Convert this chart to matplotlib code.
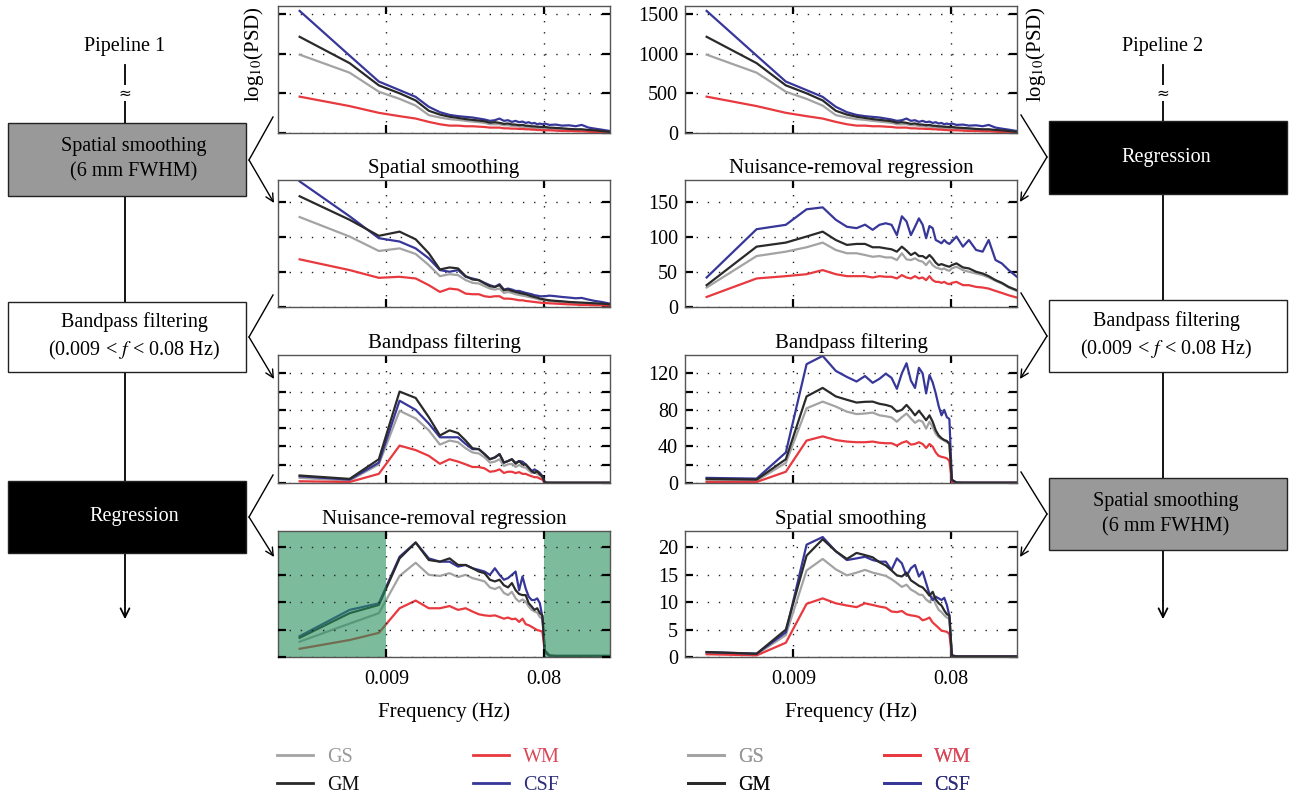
import matplotlib
matplotlib.use('Agg')
import matplotlib.pyplot as plt
from matplotlib.ticker import FixedLocator, NullLocator, FixedFormatter
from matplotlib.patches import Rectangle

plt.rcParams['font.family'] = ['Liberation Serif', 'DejaVu Serif']
plt.rcParams['mathtext.fontset'] = 'stix'

# ---------------- data ----------------
freq = [0.0027, 0.0054, 0.0081, 0.0108, 0.0135, 0.0162, 0.0189, 0.0216, 0.0243, 0.0270,
        0.0297, 0.0324, 0.0351, 0.0378, 0.0405, 0.0432, 0.0459, 0.0486, 0.0513, 0.0540,
        0.0567, 0.0594, 0.0621, 0.0648, 0.0675, 0.0702, 0.0729, 0.0756, 0.0783, 0.0810,
        0.0864, 0.0945, 0.1026, 0.1134, 0.1242, 0.1350, 0.1485, 0.1620, 0.1782, 0.1998]

series_names = ['GS', 'GM', 'WM', 'CSF']

# raw PSD (top row, both pipelines)
raw_gs = [987, 760, 520, 430, 345, 225, 195, 175, 165, 153, 144, 136, 127, 110, 110, 110, 97, 97, 89, 89,
          80, 80, 72, 72, 64, 64, 59, 59, 55, 55, 47, 42, 38, 34, 30, 25, 21, 17, 13, 8]
raw_gm = [1212, 880, 600, 500, 410, 280, 232, 205, 190, 175, 165, 157, 148, 130, 136, 128, 115, 120, 108, 106,
          98, 102, 92, 90, 84, 84, 79, 78, 75, 76, 68, 64, 59, 51, 47, 47, 38, 34, 25, 13]
raw_wm = [458, 339, 254, 212, 182, 140, 110, 93, 93, 85, 85, 80, 76, 68, 68, 68, 59, 59, 55, 55,
          51, 51, 47, 47, 42, 42, 38, 38, 34, 34, 34, 30, 25, 25, 21, 21, 17, 13, 13, 8]
raw_csf = [1538, 975, 648, 540, 455, 330, 262, 228, 212, 203, 195, 182, 170, 153, 161, 182, 153, 161, 140, 153,
           136, 144, 127, 136, 119, 127, 110, 119, 110, 119, 102, 106, 93, 97, 85, 102, 68, 55, 42, 25]

# Pipeline 1, step 1: spatial smoothing
ss1_gs = [128.9, 101, 80.3, 84, 76, 60, 44.2, 47, 45.7, 38.5, 34.6, 33.7, 29.8, 26.4, 25, 26.4, 20.2, 21.6, 20.2, 18.3,
          17.3, 16.3, 15.4, 14.4, 13.5, 12.5, 11.5, 10.6, 10.1, 9.6, 8.7, 7.7, 7.2, 6.3, 5.8, 5.3, 4.8, 4.3, 3.8, 2.9]
ss1_gm = [158.7, 125, 102, 108, 97, 77, 53.8, 56.7, 55.3, 44.2, 39.4, 38.5, 33.7, 29.8, 28.8, 31.3, 24, 25, 23, 21.6,
          20.2, 19.2, 18.3, 16.8, 15.4, 14.4, 13.5, 12, 11.5, 10.6, 9.6, 8.7, 8.2, 7.2, 6.7, 6.3, 5.8, 5.3, 4.8, 3.8]
ss1_wm = [68.3, 52.9, 41.8, 43.3, 40.9, 31.3, 21.6, 26.4, 25, 19.2, 18.3, 18.3, 15.4, 14.4, 15.4, 15.4, 12, 12, 11.5, 10.6,
          9.6, 9.6, 8.7, 8.2, 7.7, 7.2, 6.7, 6.3, 5.8, 5.8, 5.3, 4.8, 4.3, 3.8, 3.4, 2.9, 2.9, 2.4, 2.4, 1.9]
ss1_csf = [180, 130, 98.6, 93.8, 84, 69.7, 52.9, 50.5, 52.9, 43.3, 40.9, 38.5, 34.6, 31.3, 28.8, 32.7, 25, 26.4, 25, 23,
           23, 21.6, 20.2, 19.2, 18.3, 16.8, 16.3, 15.4, 15.4, 15.4, 16.3, 15.4, 14.4, 13.5, 12.5, 13, 10.6, 8.7, 7.2, 4.8]

# Pipeline 1, step 2: bandpass filtering
bp1_gs = [5.6, 2.6, 20.4, 79, 70.6, 57.6, 42, 46.4, 44.6, 38, 33.4, 32.3, 28, 22.3, 23.4, 26, 18.6, 20.4, 21, 17.5,
          19.7, 17.5, 16.7, 13.7, 11, 11.9, 10, 8.5, 5.6, 0.4, 0.2, 0.2, 0.2, 0.2, 0.2, 0.2, 0.2, 0.2, 0.2, 0.2]
bp1_gm = [8.2, 4.5, 26, 100, 93, 72, 52, 57.6, 54.6, 46.4, 38, 37, 31.6, 26, 27.9, 31.6, 22.3, 24, 26, 21,
          24, 20.4, 20.4, 16.7, 13, 11, 13, 9.3, 7.4, 0.5, 0.3, 0.3, 0.3, 0.3, 0.3, 0.3, 0.3, 0.3, 0.3, 0.3]
bp1_wm = [1.9, 1.1, 10, 40.9, 36, 29.7, 21, 26, 23.4, 20.4, 17.5, 17.5, 16, 12.3, 13, 14.9, 11, 12.3, 12.3, 10.8,
          11.9, 10, 10, 8.5, 7.4, 6.3, 6.3, 4.8, 3.7, 0.2, 0.1, 0.1, 0.1, 0.1, 0.1, 0.1, 0.1, 0.1, 0.1, 0.1]
bp1_csf = [7.4, 3.7, 22.3, 90, 80, 65, 50, 50, 50, 42.7, 37, 37, 31.6, 26, 28, 31.6, 22.3, 24, 26, 22,
           24, 23.4, 20.4, 16.7, 13, 14.9, 13, 11, 7.4, 0.4, 0.2, 0.2, 0.2, 0.2, 0.2, 0.2, 0.2, 0.2, 0.2, 0.2]

# Pipeline 1, step 3: nuisance-removal regression
rg1_gs = [2.8, 6.1, 8.0, 14.8, 17.2, 15, 14.8, 15.3, 14.6, 15, 14.4, 14.1, 13.8, 12.7, 12.4, 12.8, 11.7, 11.3, 11.9, 10.7,
          10.1, 10.5, 10.1, 9.2, 8.6, 8.3, 8.1, 7.3, 7.0, 0.9, 0.2, 0.1, 0.1, 0.1, 0.1, 0.1, 0.1, 0.1, 0.1, 0.1]
rg1_gm = [3.5, 8.0, 9.5, 18, 20.9, 17.7, 17.4, 18, 16.8, 16.8, 16.2, 15.6, 15.3, 14.1, 13.8, 14.1, 13.1, 12.7, 13.5, 12.2,
          11.5, 11.3, 11.3, 9.8, 9.2, 8.6, 8.9, 8.0, 7.6, 1.2, 0.3, 0.2, 0.2, 0.2, 0.2, 0.2, 0.2, 0.2, 0.2, 0.2]
rg1_wm = [1.5, 3.1, 4.4, 8.9, 10.3, 8.9, 8.9, 9.3, 8.6, 8.9, 8.3, 7.8, 7.6, 7.5, 7.6, 7.3, 7.0, 7.2, 6.9, 7.0,
          6.4, 7.0, 6.0, 5.8, 5.5, 5.2, 4.9, 4.8, 4.6, 0.9, 0.2, 0.1, 0.1, 0.1, 0.1, 0.1, 0.1, 0.1, 0.1, 0.1]
rg1_csf = [3.8, 8.6, 9.8, 18.3, 20.9, 18, 17.4, 17.4, 16.5, 16.8, 16.2, 15.9, 15.6, 15, 16.2, 15, 14.1, 14.4, 15.0, 15.6,
           12.2, 14.7, 12.5, 11, 10.4, 10.4, 10.7, 9.8, 7.3, 0.9, 0.2, 0.2, 0.2, 0.2, 0.2, 0.2, 0.2, 0.2, 0.2, 0.2]

# Pipeline 2, step 1: nuisance-removal regression
rg2_gs = [27.9, 73, 79.3, 85.6, 92.3, 81.7, 77, 77, 74.5, 72, 73, 71, 71, 67.3, 77, 68.3, 67.3, 69.7, 66.3, 65,
          60, 66.3, 60, 56.7, 55.3, 53.8, 55.3, 52.9, 51.9, 55.3, 57.7, 52.9, 50.5, 48, 45.7, 42.3, 37.5, 33.7, 27.9, 23]
rg2_gm = [31.3, 86.5, 92.3, 101, 108, 96, 89, 90.4, 90.4, 85.6, 85.6, 84, 82.7, 79.3, 86.5, 80.8, 74.5, 77.9, 73, 73,
          69.7, 74.5, 69.7, 63.5, 60, 61.5, 60, 58.7, 57.7, 60, 62.5, 56.7, 55.3, 50.5, 48, 44.2, 38.5, 34.6, 28.8, 24]
rg2_wm = [14.4, 40.9, 44.2, 47, 52.9, 47, 44.2, 44.2, 44.2, 42.3, 44.2, 43.3, 43.3, 40.9, 45.7, 42.3, 40.9, 44.2, 40.9, 42.3,
          38.5, 44.2, 38.5, 36, 36, 34.6, 36, 33.7, 32.7, 34.6, 36, 31.3, 31.3, 28.8, 27.9, 26.4, 23, 20.2, 16.8, 13.5]
rg2_csf = [42.3, 111.5, 117.8, 140, 142.8, 125, 115, 113, 118, 110.6, 117.8, 120, 117.8, 103, 130, 122.6, 103, 115, 127, 118,
           98.6, 116, 113, 96, 93.8, 91.3, 96, 92.3, 90.4, 93.8, 101, 86.5, 96, 81.7, 79.3, 96, 67.3, 62.5, 52.9, 43.3]

# Pipeline 2, step 2: bandpass filtering
bp2_gs = [2.6, 2.6, 22, 81.7, 89, 83.6, 78, 75.4, 76, 77, 74, 73, 71.7, 67, 72, 76, 70.6, 65.8, 68.7, 67,
          59.4, 67, 61.3, 53.9, 50, 48, 46.4, 44.6, 42.7, 2.6, 0.3, 0.2, 0.2, 0.2, 0.2, 0.2, 0.2, 0.2, 0.2, 0.2]
bp2_gm = [4.5, 3.7, 26, 94.7, 104, 94.7, 91, 88, 88.8, 89, 86.6, 85.4, 83.6, 78, 80, 85.4, 80, 74, 79, 74,
          68.7, 74, 67, 57.6, 52, 49, 47, 46, 43, 3.7, 0.4, 0.3, 0.3, 0.3, 0.3, 0.3, 0.3, 0.3, 0.3, 0.3]
bp2_wm = [1.1, 1.1, 12.3, 46.4, 51, 47, 45.3, 44.6, 44.6, 45.3, 44, 43.5, 43.5, 40.9, 44, 45.7, 42, 42.7, 44.6, 42.7,
          38.3, 42.7, 39.7, 33.4, 29.7, 28.6, 27.9, 27, 24, 1.1, 0.2, 0.2, 0.2, 0.2, 0.2, 0.2, 0.2, 0.2, 0.2, 0.2]
bp2_csf = [5.6, 4.8, 33.4, 130, 139, 122.6, 116, 111, 117, 109.6, 114, 119.6, 115, 103, 120, 131, 112, 104, 126, 120,
           98, 118, 110, 98, 84, 74, 80, 72, 70, 3, 0.5, 0.3, 0.3, 0.3, 0.3, 0.3, 0.3, 0.3, 0.3, 0.3]

# Pipeline 2, step 3: spatial smoothing
ss2_gs = [0.7, 0.5, 4.0, 15.8, 17.9, 16.0, 14.9, 15.4, 15.9, 15.4, 15.1, 14.8, 14.2, 13.5, 12.8, 13.2, 12.3, 11.9, 11.4, 11.3,
          10.5, 10.0, 11.0, 9.6, 8.6, 8.2, 7.6, 7.2, 7.0, 0.2, 0.1, 0.1, 0.1, 0.1, 0.1, 0.1, 0.1, 0.1, 0.1, 0.1]
ss2_gm = [0.9, 0.6, 5.0, 18.5, 21.5, 19.3, 17.9, 19.0, 18.6, 18.2, 17.3, 16.7, 15.8, 14.9, 14.7, 15.4, 14.0, 13.5, 13.0, 12.7,
          12.0, 11.2, 11.9, 10.5, 9.8, 9.4, 8.5, 7.8, 7.6, 0.3, 0.1, 0.1, 0.1, 0.1, 0.1, 0.1, 0.1, 0.1, 0.1, 0.1]
ss2_wm = [0.5, 0.3, 2.6, 9.7, 10.7, 9.8, 9.4, 9.1, 9.8, 9.5, 9.2, 9.0, 8.3, 8.2, 8.4, 7.8, 7.6, 7.5, 7.3, 6.7,
          6.9, 7.2, 6.3, 5.8, 5.3, 4.8, 4.7, 4.6, 4.2, 0.2, 0.1, 0.1, 0.1, 0.1, 0.1, 0.1, 0.1, 0.1, 0.1, 0.1]
ss2_csf = [0.9, 0.6, 4.5, 20.5, 21.9, 19.3, 17.7, 18.0, 18.3, 17.7, 17.4, 17.4, 15.9, 18.0, 17.1, 14.8, 16.2, 16.8, 14.7, 15.6,
           13.5, 11.5, 10.4, 11.0, 10.7, 10.4, 10.8, 9.5, 7.5, 0.3, 0.1, 0.1, 0.1, 0.1, 0.1, 0.1, 0.1, 0.1, 0.1, 0.1]

x_ticks = [0.009, 0.08]
x_ticklabels = ['0.009', '0.08']
band = (0.009, 0.08)

titles_left = ['', 'Spatial smoothing', 'Bandpass filtering', 'Nuisance-removal regression']
titles_right = ['', 'Nuisance-removal regression', 'Bandpass filtering', 'Spatial smoothing']
left_steps = ['Spatial smoothing\n(6 mm FWHM)', 'Bandpass filtering\n(0.009 < $f$ < 0.08 Hz)', 'Regression']
right_steps = ['Regression', 'Bandpass filtering\n(0.009 < $f$ < 0.08 Hz)', 'Spatial smoothing\n(6 mm FWHM)']

# ---------------- style ----------------
C = {'GS': '#a3a3a3', 'GM': '#2a2a2a', 'WM': '#e8393f', 'CSF': '#37379a'}
TXT = {'GS': '#999999', 'GM': '#111111', 'WM': '#d9485a', 'CSF': '#2e2e7c'}

W, H = 1290, 794
fig = plt.figure(figsize=(W / 100, H / 100), dpi=100)


def px_axes(x0, y0, x1, y1, **kw):
    return fig.add_axes([x0 / W, 1 - y1 / H, (x1 - x0) / W, (y1 - y0) / H], **kw)


row_y = [(6, 133), (180, 307), (355, 483), (531, 657)]
col_x = [(278, 610), (685, 1017)]

row_ylim = [(0, 1600), (0, 182), (0, 140), (0, 23)]
row_yticks = [[0, 500, 1000, 1500], [0, 50, 100, 150], [0, 20, 40, 60, 80, 100, 120], [0, 5, 10, 15, 20]]
row_ylabels = [['0', '500', '1000', '1500'], ['0', '50', '100', '150'],
               ['0', '', '40', '', '80', '', '120'], ['0', '5', '10', '15', '20']]

left_data = [(raw_gs, raw_gm, raw_wm, raw_csf), (ss1_gs, ss1_gm, ss1_wm, ss1_csf),
             (bp1_gs, bp1_gm, bp1_wm, bp1_csf), (rg1_gs, rg1_gm, rg1_wm, rg1_csf)]
right_data = [(raw_gs, raw_gm, raw_wm, raw_csf), (rg2_gs, rg2_gm, rg2_wm, rg2_csf),
              (bp2_gs, bp2_gm, bp2_wm, bp2_csf), (ss2_gs, ss2_gm, ss2_wm, ss2_csf)]

FS = 14.5
handles = {}
for col in range(2):
    for row in range(4):
        x0, x1 = col_x[col]
        y0, y1 = row_y[row]
        ax = px_axes(x0, y0, x1, y1)
        data = left_data[row] if col == 0 else right_data[row]
        gs, gm, wm, csf = data
        for name, vals in [('GS', gs), ('WM', wm), ('CSF', csf), ('GM', gm)]:
            ln, = ax.plot(freq, vals, color=C[name], lw=1.6, zorder=2, solid_joinstyle='round')
            handles[name] = ln
        ax.set_xscale('log')
        ax.set_xlim(0.002, 0.2)
        ax.set_ylim(*row_ylim[row])
        ax.xaxis.set_major_locator(FixedLocator(x_ticks))
        ax.xaxis.set_minor_locator(NullLocator())
        ax.yaxis.set_major_locator(FixedLocator(row_yticks[row]))
        ax.yaxis.set_minor_locator(NullLocator())
        if row == 3:
            ax.xaxis.set_major_formatter(FixedFormatter(x_ticklabels))
        else:
            ax.xaxis.set_major_formatter(FixedFormatter(['', '']))
        if col == 1:
            ax.yaxis.set_major_formatter(FixedFormatter(row_ylabels[row]))
        else:
            ax.yaxis.set_major_formatter(FixedFormatter([''] * len(row_yticks[row])))
        ax.tick_params(axis='both', which='major', direction='in', top=True, bottom=True,
                       left=True, right=True, length=6, width=1.6, color='black',
                       labelsize=FS)
        ax.tick_params(axis='x', pad=9)
        ax.tick_params(axis='y', pad=5)
        ax.grid(True, which='major', linestyle=(0, (1, 7)), color='#222222', lw=1.0)
        for sp in ax.spines.values():
            sp.set_color('#555555')
            sp.set_linewidth(1.0)
        title = titles_left[row] if col == 0 else titles_right[row]
        if title:
            ax.set_title(title, fontsize=15, pad=5)
        if col == 0 and row == 3:
            ax.set_axisbelow(False)
            ax.axvspan(0.002, band[0], color=(38 / 255, 143 / 255, 92 / 255), alpha=0.6, lw=0, zorder=2.3)
            ax.axvspan(band[1], 0.2, color=(38 / 255, 143 / 255, 92 / 255), alpha=0.6, lw=0, zorder=2.3)

# ---------------- overlay: flowcharts ----------------
ov = fig.add_axes([0, 0, 1, 1], facecolor='none', zorder=10)
ov.set_xlim(0, W)
ov.set_ylim(H, 0)
ov.axis('off')

for x_line, label in [(125, 'Pipeline 1'), (1163, 'Pipeline 2')]:
    ov.text(x_line, 46, label, ha='center', va='center', fontsize=FS)
    ov.plot([x_line, x_line], [65, 600], color='black', lw=1.3)
    ov.annotate('', xy=(x_line, 622), xytext=(x_line, 598),
                arrowprops=dict(arrowstyle='->', lw=1.3, color='black', mutation_scale=16))
    ov.text(x_line, 93, '≈', ha='center', va='center', fontsize=11,
            bbox=dict(facecolor='white', edgecolor='none', pad=0.2), family=['DejaVu Sans'])

box_style = {
    'Spatial smoothing\n(6 mm FWHM)': ('#999999', 'black'),
    'Bandpass filtering\n(0.009 < $f$ < 0.08 Hz)': ('white', 'black'),
    'Regression': ('black', 'white'),
}
left_boxes = [(123, 196), (302, 372), (481, 553)]
right_boxes = [(121, 194), (300, 372), (478, 550)]
for (ya, yb), label in zip(left_boxes, left_steps):
    fc, tc = box_style[label]
    ov.add_patch(Rectangle((8, ya), 238, yb - ya, facecolor=fc, edgecolor='#222222', lw=1.0, zorder=3))
    ov.text(134, (ya + yb) / 2, label, ha='center', va='center', fontsize=FS, color=tc,
            linespacing=1.45, zorder=4)
for (ya, yb), label in zip(right_boxes, right_steps):
    fc, tc = box_style[label]
    ov.add_patch(Rectangle((1049, ya), 238, yb - ya, facecolor=fc, edgecolor='#222222', lw=1.0, zorder=3))
    ov.text(1166, (ya + yb) / 2, label, ha='center', va='center', fontsize=FS, color=tc,
            linespacing=1.45, zorder=4)

# chevron connectors
for ys, yv, ye in [(117, 160, 203), (295, 337, 379), (475, 517, 557)]:
    ov.plot([273, 249], [ys, yv], color='black', lw=1.0)
    ov.annotate('', xy=(274, ye), xytext=(249, yv),
                arrowprops=dict(arrowstyle='->', lw=1.0, color='black', mutation_scale=14,
                                shrinkA=0, shrinkB=0))
for ys, yv, ye in [(115, 157, 202), (293, 336, 379), (472, 514, 557)]:
    ov.plot([1021, 1047], [ys, yv], color='black', lw=1.0)
    ov.annotate('', xy=(1020, ye), xytext=(1047, yv),
                arrowprops=dict(arrowstyle='->', lw=1.0, color='black', mutation_scale=14,
                                shrinkA=0, shrinkB=0))

# y labels
ov.text(254, 54, 'log$_{10}$(PSD)', rotation=90, ha='center', va='center', fontsize=15)
ov.text(1036, 54, 'log$_{10}$(PSD)', rotation=90, ha='center', va='center', fontsize=15)

# x labels
ov.text(444, 712, 'Frequency (Hz)', ha='center', va='center', fontsize=15)
ov.text(851, 712, 'Frequency (Hz)', ha='center', va='center', fontsize=15)

# legends
order = ['GS', 'GM', 'WM', 'CSF']
for x_anchor in [277, 688]:
    leg = ov.legend([handles[n] for n in order], order, loc='upper left',
                    bbox_to_anchor=(x_anchor, 748), bbox_transform=ov.transData,
                    ncol=2, frameon=False, fontsize=FS, handlelength=1.8,
                    handletextpad=0.7, columnspacing=5.6, labelspacing=0.45,
                    borderpad=0, borderaxespad=0,
                    labelcolor=[TXT[n] for n in order])
    for lh in leg.get_lines():
        lh.set_linewidth(2.0)
    ov.add_artist(leg)

fig.savefig('out.png', dpi=100)
